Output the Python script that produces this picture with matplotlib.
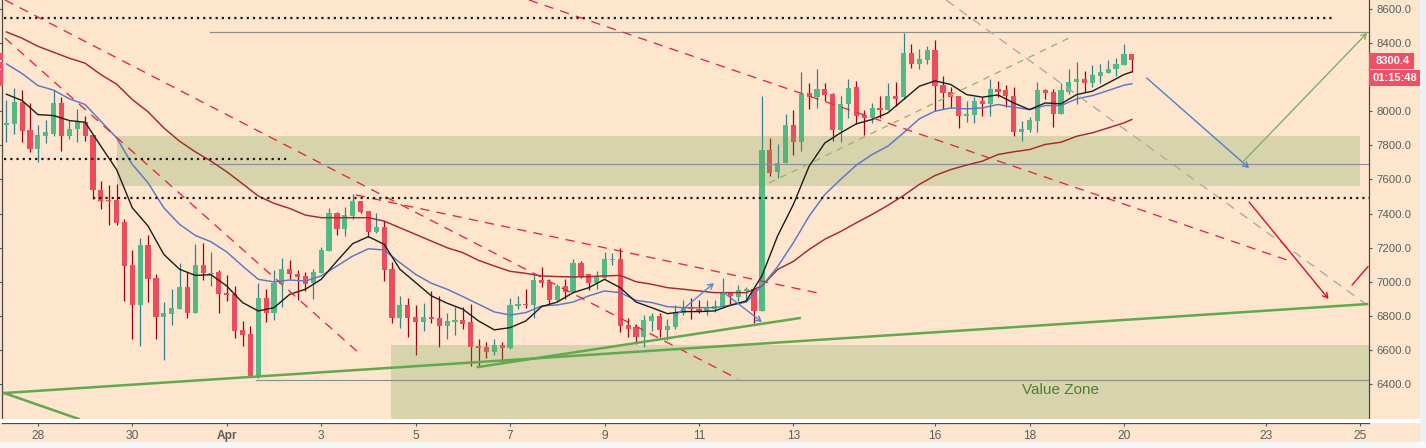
import matplotlib
matplotlib.use("Agg")
import matplotlib.pyplot as plt
from matplotlib.patches import Rectangle

plt.rcParams['font.family'] = ['Liberation Sans', 'DejaVu Sans']

W, H = 1426, 448
BG = '#FDE5CE'
UP, DOWN = '#53B987', '#EB4D5C'
UPW, DOWNW = '#37808F', '#A00010'

opens = [7916,7922,8056,7887,7781,7857,7869,8050,7857,7898,7939,7863,7541,7477,7477,7348,7097,6863,7214,7021,
         6793,6810,6840,6968,6816,7097,7048,7056,6933,6927,6717,6693,6450,6904,6816,6986,7074,7044,7033,6992,
         7050,7179,7401,7307,7384,7471,7413,7290,7319,7074,6787,6863,6793,6763,6793,6787,6740,6763,6775,6763,
         6623,6617,6588,6629,6611,6857,6869,6863,7009,6997,6892,6974,6939,7109,7044,6992,7021,7126,7132,6746,
         6734,6676,6769,6798,6717,6734,6816,6851,6840,6828,6840,6851,6933,6910,6945,6957,6828,7775,7641,7694,
         7916,7822,8109,8080,8132,8103,7887,8039,8144,7980,7957,8021,8004,8091,8080,8343,8279,8302,8360,8156,
         8115,8086,7974,7980,8062,8039,8132,8121,8091,7875,7887,7945,8121,8115,7986,8115,8173,8191,8162,8208,
         8226,8244,8273,8337]
closes = [7928,8056,7881,7781,7863,7875,8050,7857,7898,7945,7857,7536,7471,7471,7343,7091,6863,7214,7015,6793,
          6816,6845,6968,6816,7097,7050,7054,6927,6921,6711,6687,6450,6904,6816,6992,7074,7044,7027,6986,7056,
          7185,7401,7307,7389,7471,7407,7290,7319,7068,6787,6863,6787,6763,6793,6781,6740,6769,6775,6752,6617,
          6611,6588,6629,6611,6863,6869,6863,7009,6992,6892,6974,6939,7109,7033,6992,7027,7132,7132,6740,6723,
          6676,6775,6798,6717,6740,6822,6845,6840,6828,6845,6857,6933,6916,6951,6957,6828,7775,7635,7694,7916,
          7822,8103,8080,8132,8097,7887,8039,8138,7974,7957,8021,8004,8091,8074,8343,8279,8308,8360,8150,8109,
          8080,7974,7986,8062,8039,8132,8115,8086,7875,7893,7951,8121,8109,7986,8121,8173,8191,8162,8214,8232,
          8249,8279,8337,8300]
highs = [8068,8138,8126,8045,7916,7951,8126,8080,7951,8010,7974,7863,7588,7565,7571,7366,7185,7255,7272,7044,
         6880,6957,7109,7056,7220,7226,7173,7068,7038,6974,6769,6740,6992,6957,7068,7138,7126,7068,7056,7074,
         7202,7430,7407,7436,7512,7471,7413,7401,7354,7114,6916,6904,6863,6875,6945,6916,6816,6851,6851,6869,
         6664,6646,6664,6646,6904,6916,6957,7044,7085,7015,6986,7015,7132,7120,7044,7062,7173,7167,7196,6787,
         6752,6804,6816,6816,6781,6863,6892,6904,6892,6892,6892,7021,6939,6980,6968,6957,8091,7840,7805,7986,
         8004,8232,8167,8244,8167,8109,8091,8191,8179,8004,8045,8091,8162,8173,8460,8396,8366,8384,8419,8208,
         8144,8086,8062,8080,8080,8191,8179,8156,8144,7945,7963,8173,8132,8132,8162,8244,8290,8238,8273,8279,
         8302,8314,8396,8337]
lows = [7818,7869,7822,7758,7705,7811,7857,7764,7834,7822,7828,7483,7425,7331,7331,6886,6664,6623,6880,6664,
        6541,6746,6840,6787,6816,7009,6974,6816,6886,6670,6623,6440,6436,6763,6775,6851,7015,6892,6945,6898,
        7050,7179,7272,7267,7366,7405,7265,7284,7003,6758,6728,6676,6570,6711,6758,6617,6664,6687,6722,6506,
        6506,6553,6570,6529,6605,6840,6845,6787,6968,6863,6886,6898,6933,7021,6951,6957,7021,7097,6705,6676,
        6635,6617,6711,6676,6658,6723,6804,6781,6816,6804,6822,6851,6869,6886,6886,6758,6828,7618,7606,7694,
        7746,7764,8015,8021,8062,7828,7822,7957,7922,7863,7928,7957,8004,8033,8074,8255,8249,8279,7998,8015,
        8021,7904,7939,7933,7969,7974,8080,8027,7852,7828,7875,7875,8074,7910,7986,8103,8039,8115,8144,8167,
        8226,8203,8273,8230]

ma_bars = list(range(0, 143, 2)) + [143]
ma_fast = [8099,8062,7980,7974,7945,7935,7795,7658,7434,7327,7161,7074,7038,7042,6976,6879,6830,6849,6927,6957,
           7015,7122,7224,7265,7220,7074,6996,6918,6875,6840,6771,6719,6732,6771,6855,6882,6937,6966,7015,6966,
           6882,6849,6814,6826,6826,6830,6863,6888,7035,7270,7454,7678,7814,7873,7926,7951,7990,8068,8146,8177,
           8156,8097,8082,8095,8048,8009,8048,8043,8097,8117,8165,8214,8230]
ma_mid = [8277,8220,8150,8123,8072,8039,7941,7844,7688,7580,7434,7337,7272,7235,7175,7093,7015,7000,7011,7005,
          7035,7093,7151,7194,7187,7113,7044,6992,6957,6914,6869,6824,6806,6820,6859,6865,6882,6918,6947,6937,
          6892,6879,6855,6849,6849,6849,6863,6882,6976,7089,7230,7385,7512,7600,7684,7746,7795,7873,7955,8000,
          8019,8013,8019,8039,8023,8009,8033,8033,8072,8091,8121,8152,8160]
ma_slow = [8464,8427,8380,8345,8310,8281,8214,8158,8068,7996,7902,7824,7762,7707,7645,7575,7503,7460,7430,7391,
           7376,7376,7376,7376,7356,7317,7278,7239,7200,7171,7126,7093,7062,7050,7035,7031,7029,7031,7035,7038,
           7001,6986,6966,6957,6947,6937,6937,6937,6976,7073,7120,7190,7250,7295,7346,7395,7448,7506,7571,7623,
           7658,7684,7707,7746,7762,7775,7805,7818,7853,7873,7902,7931,7951]

tick_bars = [4, 16, 28, 40, 52, 64, 76, 88, 100, 118, 130, 142, 160, 172]
tick_labels = ['28', '30', 'Apr', '3', '5', '7', '9', '11', '13', '16', '18', '20', '23', '25']
price_ticks = [6400 + 200 * k for k in range(12)]
hidden_price_labels = [8200]   # covered by the countdown tag in the reference

# (bar0, price0, bar1, price1)
red_dashes = [(-0.18, 8651, 92.96, 6431), (-0.18, 8428, 44.93, 6578),
              (66.4, 8651, 163.1, 7122), (44.4, 7509, 103.1, 6935)]
gray_dash = (119.4, 8651, 172.9, 6865)
green_dash = (96.9, 7579, 135.0, 8428)
green_solid = [(-0.3, 6349, 172.9, 6870), (-0.3, 6349, 9.2, 6197), (59.9, 6501, 100.8, 6788)]
dotted_levels = [(8543, -0.3, 168.6), (7720, -0.3, 35.9), (7494, 11.0, 173.1)]
gray_levels = [(8466, 25.9, '#8E9088'), (7690, 25.9, '#8A8E9C'), (6428, 31.7, '#8E9088')]
zones = [(7562, 7857, 14.0, 172.0), (6190, 6630, 48.9, 173.1)]
arrows = [(84.96, 6800, 89.9, 6993, '#5585D5'), (91.05, 6941, 96.0, 6765, '#5585D5'),
          (144.9, 8194, 157.9, 7667, '#5080C8'), (157.1, 7702, 172.9, 8458, '#7FB060'),
          (157.9, 7468, 168.0, 6900, '#E01020')]
red_stub = (171.0, 6982, 173.0, 7089)

fig = plt.figure(figsize=(W / 100, H / 100), dpi=100, facecolor='#F7F7F7')


def rect(x0, y0, x1, y1, color, z=-5):
    fig.add_artist(Rectangle((x0 / W, 1 - y1 / H), (x1 - x0) / W, (y1 - y0) / H,
                             transform=fig.transFigure, facecolor=color, edgecolor='none', zorder=z))


rect(0, 0, 1420, 442, BG, -5)
rect(1420, 0, 1426, 442, '#EEF0F3', -5)

L, R, T, B = 2.3, 1369.0, 0.0, 423.0
ax = fig.add_axes([L / W, 1 - B / H, (R - L) / W, (B - T) / H], facecolor=BG, zorder=1)
ax.set_xlim((L - 6.4) / 7.87, (R - 6.4) / 7.87)
ax.set_ylim(8651 - 5.857 * B, 8651)

# candles
for i, (o, h, l, c) in enumerate(zip(opens, highs, lows, closes)):
    up = c >= o
    ax.vlines(i, l, h, color=UPW if up else DOWNW, lw=0.9, zorder=2)
    lo, hi = min(o, c), max(o, c)
    ax.bar(i, max(hi - lo, 6), bottom=lo, width=0.66, color=UP if up else DOWN, linewidth=0, zorder=2.1)

# zones
for lo, hi, a, b in zones:
    ax.fill_between([a, b], lo, hi, color='#69A54E', alpha=0.25, linewidth=0, zorder=3)

# levels
for level, a, b in dotted_levels:
    ax.plot([a, b], [level, level], color='#1C1C1C', lw=1.6, ls=(0, (1, 1.8)), zorder=6, dash_capstyle='butt')
for level, a, col in gray_levels:
    ax.plot([a, 173.1], [level, level], color=col, lw=0.85, zorder=4)

# moving averages
ax.plot(ma_bars, ma_slow, color='#A62A2C', lw=1.05, zorder=5)
ax.plot(ma_bars, ma_mid, color='#5B78C4', lw=1.05, zorder=5)
ax.plot(ma_bars, ma_fast, color='#1C1C1C', lw=1.0, zorder=5)

# trend lines
for a, p, b, q in red_dashes:
    ax.plot([a, b], [p, q], color='#E22A36', lw=0.95, ls=(0, (7, 5.5)), zorder=5.5)
ax.plot(gray_dash[0::2], gray_dash[1::2], color='#A9A9A4', lw=0.95, ls=(0, (7, 5.5)), zorder=5.5)
ax.plot(green_dash[0::2], green_dash[1::2], color='#90B86C', lw=0.95, ls=(0, (5, 4.5)), zorder=5.5)
for a, p, b, q in green_solid:
    ax.plot([a, b], [p, q], color='#62A84F', lw=1.8, zorder=5.6)
for a, p, b, q, col in arrows:
    ax.annotate('', xy=(b, q), xytext=(a, p), zorder=5.7,
                arrowprops=dict(arrowstyle='->,head_length=0.35,head_width=0.2', color=col, lw=1.0,
                                shrinkA=0, shrinkB=0))
ax.plot(red_stub[0::2], red_stub[1::2], color='#E01020', lw=1.0, zorder=5.7)

ax.text(134, 6367, 'Value Zone', color='#4A7F2F', fontsize=11, ha='center', va='center', zorder=7)

# axes
for s in ('top',):
    ax.spines[s].set_visible(False)
for s in ('left', 'right', 'bottom'):
    ax.spines[s].set_color('#4A4A4A')
    ax.spines[s].set_linewidth(0.9)
ax.set_yticks(price_ticks)
ax.set_yticklabels(['' if p in hidden_price_labels else f'{p:.1f}' for p in price_ticks])
ax.tick_params(axis='y', left=True, right=True, labelleft=False, labelright=True, length=2.4, width=0.8,
               pad=2.7, color='#555555', labelcolor='#5E5E5E', labelsize=8.2)
ax.set_xticks(tick_bars)
ax.set_xticklabels(tick_labels)
ax.tick_params(axis='x', length=2.4, width=0.8, pad=2.6, color='#555555', labelcolor='#5E5E5E', labelsize=8.6)
for lab in ax.get_xticklabels():
    if lab.get_text() == 'Apr':
        lab.set_fontweight('bold')

# white separator above the time axis
rect(0, 419.3, 1420, 422.6, '#FFFFFF', 8)

# price tags
TAG = '#EF5066'
rect(1369, 53.3, 1414, 69, TAG, 8)
rect(1369, 70, 1419.5, 86, TAG, 8)
rect(0, 53, 3, 60, TAG, 8)
rect(0, 62, 3, 69, TAG, 8)
rect(0, 70, 3, 86, TAG, 8)
fig.text(1376 / W, 1 - 61.3 / H, '8300.4', color='white', fontsize=8.0, fontweight='bold', ha='left', va='center', zorder=9)
fig.text(1372.5 / W, 1 - 78 / H, '01:15:48', color='white', fontsize=8.0, fontweight='bold', ha='left', va='center', zorder=9)

fig.savefig('out.png', dpi=100, facecolor=fig.get_facecolor())
